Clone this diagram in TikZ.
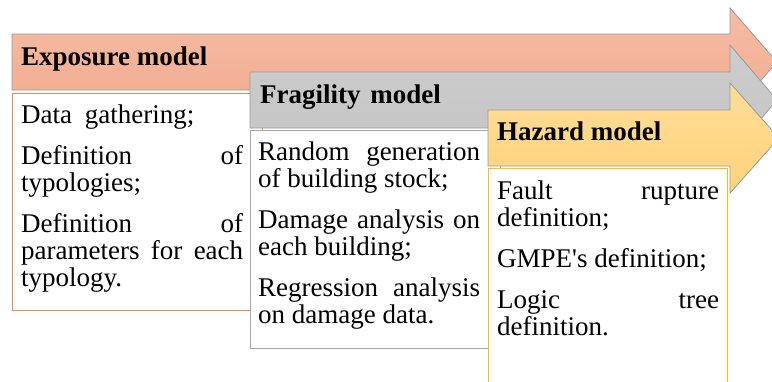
\documentclass[tikz,border=0pt]{standalone}
\usepackage{fontspec}
\setmainfont{Liberation Serif}
\begin{document}
\begin{tikzpicture}[x=1pt,y=-1pt,
  arrowline/.style={draw=black!40,line width=0.8pt,line join=miter},
  exparrow/.style={arrowline,top color=expTop,bottom color=expBot},
  fraarrow/.style={arrowline,top color=fraTop,bottom color=fraBot},
  hazarrow/.style={arrowline,top color=hazTop,bottom color=hazBot},
  panel/.style={fill=white,line width=0.9pt},
  heading/.style={anchor=base west,inner sep=0pt,font=\fontsize{27}{27}\selectfont\bfseries},
  bodytext/.style={anchor=base west,inner sep=0pt,text width=222pt,align=justify,
    font=\fontsize{27}{27}\selectfont}]
\definecolor{expTop}{HTML}{F5BCA4}
\definecolor{expBot}{HTML}{F2AB8F}
\definecolor{expLine}{HTML}{EE8A4E}
\definecolor{fraTop}{HTML}{CDCDCD}
\definecolor{fraBot}{HTML}{C4C4C4}
\definecolor{fraLine}{HTML}{A6A6A6}
\definecolor{hazTop}{HTML}{FFDD98}
\definecolor{hazBot}{HTML}{FFD27B}
\definecolor{hazLine}{HTML}{FFC000}
\useasboundingbox (0,0) rectangle (772,381);
\clip (0,0) rectangle (772,381);

% Exposure model
\draw[exparrow] (12,34) -- (730,34) -- (730,8) -- (777,62) -- (730,116)
  -- (730,90) -- (12,90) -- cycle;
\draw[panel,draw=expLine] (12,93) rectangle (262,310);
\node[heading] (expHead) at (21,65) {Exposure model};
\node[bodytext] (expText) at (21,123) {%
  \baselineskip=26pt
  Data\hspace{6pt} gathering;\\[14pt]
  Definition\hfill of\\
  typologies;\\[14pt]
  Definition\hfill of\\
  parameters\hfill for\hfill each\\
  typology.};

% Fragility model
\draw[fraarrow] (250,72) -- (730,72) -- (730,45) -- (777,100) -- (730,155)
  -- (730,128) -- (250,128) -- cycle;
\draw[panel,draw=fraLine] (250,130) rectangle (500,348);
\node[heading] (fraHead) at (260,103) {Fragility\hspace{3pt} model};
\node[bodytext] (fraText) at (258,160) {%
  \baselineskip=26pt
  Random\hfill generation\\
  of building stock;\\[14pt]
  Damage\hfill analysis\hfill on\\
  each building;\\[14pt]
  Regression\hfill analysis\\
  on damage data.};

% Hazard model
\draw[hazarrow] (488,110) -- (730,110) -- (730,83) -- (779,138) -- (730,193)
  -- (730,166) -- (488,166) -- cycle;
\draw[panel,draw=hazLine] (488,168) rectangle (727,400);
\node[heading] (hazHead) at (497,140) {Hazard model};
\node[bodytext] (hazText) at (497,199) {%
  \baselineskip=26pt
  Fault\hfill rupture\\
  definition;\\[14pt]
  GMPE\textquotesingle s definition;\\[14pt]
  Logic\hfill tree\\
  definition.};
\end{tikzpicture}
\end{document}
